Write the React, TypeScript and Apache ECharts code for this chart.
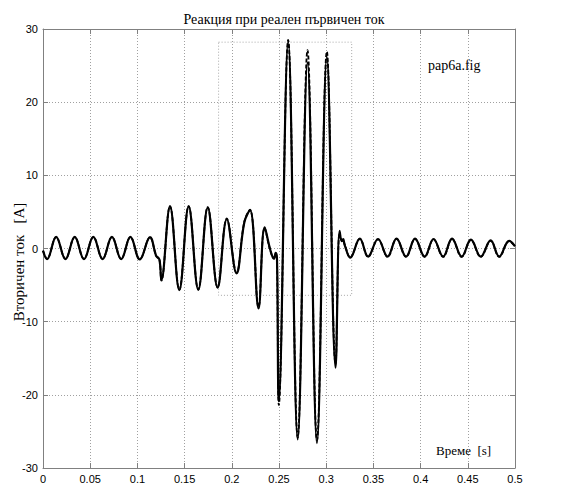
import React, { useEffect, useRef } from "react";
import * as echarts from "echarts";

const titleText = "Реакция при реален първичен ток";
const yAxisName = "Вторичен ток   [A]";
const xAxisName = "Време  [s]";
const figName = "pap6a.fig";

const xTicks = { min: 0, max: 0.5, interval: 0.05 };
const yTicks = { min: -30, max: 30, interval: 10 };

const time = [
  0.0, 0.0043, 0.0139, 0.0238, 0.0336, 0.0434, 0.0533, 0.0631, 0.073, 0.0828,
  0.0926, 0.1025, 0.1133, 0.12, 0.1233, 0.1254, 0.1345, 0.1444, 0.1543, 0.1645,
  0.1745, 0.185, 0.1947, 0.205, 0.2133, 0.2193, 0.2283, 0.2348, 0.2406, 0.2446,
  0.2465, 0.2479, 0.2498, 0.2597, 0.2698, 0.2802, 0.2902, 0.3007, 0.3099, 0.3142,
  0.3165, 0.318, 0.3195, 0.3255, 0.3356, 0.3444, 0.3549, 0.365, 0.3745, 0.3846,
  0.3941, 0.4043, 0.4137, 0.4239, 0.4333, 0.4435, 0.4533, 0.4637, 0.4742, 0.4833,
  0.4938, 0.5,
];

const solidCurrent = [
  -0.3, -1.45, 1.6, -1.45, 1.6, -1.45, 1.6, -1.45, 1.6, -1.45,
  1.6, -1.5, 1.55, -1.05, -1.5, -4.3, 5.75, -5.7, 5.75, -5.65,
  5.6, -5.35, 4.0, -3.4, 3.6, 5.25, -8.2, 2.9, -0.1, -1.4,
  -0.6, -1.5, -20.9, 28.3, -26.1, 25.4, -26.6, 26.2, -16.3, 2.4,
  1.0, 1.3, 0.5, -1.25, 1.35, -1.1, 1.3, -1.1, 1.35, -1.1,
  1.35, -1.1, 1.3, -1.1, 1.35, -1.1, 1.2, -1.1, 1.1, -1.1,
  1.05, 0.3,
];

const dashedCurrent = [
  -0.3, -1.4, 1.55, -1.4, 1.55, -1.4, 1.55, -1.4, 1.55, -1.4,
  1.55, -1.45, 1.5, -1.0, -1.45, -4.4, 5.8, -5.6, 5.8, -5.6,
  5.65, -5.3, 4.1, -3.3, 3.7, 5.3, -8.0, 2.8, -0.2, -1.3,
  -0.7, -1.6, -21.4, 28.5, -25.8, 27.1, -26.2, 26.9, -15.8, 2.2,
  1.1, 1.2, 0.6, -1.2, 1.3, -1.15, 1.25, -1.15, 1.3, -1.15,
  1.3, -1.15, 1.25, -1.15, 1.3, -1.15, 1.15, -1.15, 1.05, -1.15,
  1.0, 0.3,
];

const zoomBoxX = [0.186, 0.327];
const zoomBoxY = [-6.4, 28.2];

export default function App() {
  const ref = useRef<HTMLDivElement>(null);
  useEffect(() => {
    if (!ref.current) return;
    const chart = echarts.init(ref.current, undefined, { renderer: "svg" });
    const frame = "#808080";
    const grid = "#a0a0a0";
    const boxData = [
      [zoomBoxX[0], zoomBoxY[1]],
      [zoomBoxX[1], zoomBoxY[1]],
      [zoomBoxX[1], zoomBoxY[0]],
      [zoomBoxX[0], zoomBoxY[0]],
      [zoomBoxX[0], zoomBoxY[1]],
    ];
    const baseAxis = (extra: any) => ({
      type: "value",
      axisLine: { show: true, onZero: false, lineStyle: { color: frame, width: 1 } },
      axisTick: { show: true, inside: true, length: 5, lineStyle: { color: frame } },
      ...extra,
    });
    chart.setOption({
      animation: false,
      backgroundColor: "#ffffff",
      title: {
        text: titleText,
        left: 279,
        textAlign: "center",
        top: 7,
        textStyle: { fontFamily: "Liberation Serif", fontSize: 14, fontWeight: "normal", color: "#000" },
      },
      grid: { left: 43, right: 47, top: 29, bottom: 19, containLabel: false },
      xAxis: [
        baseAxis({
          ...xTicks,
          position: "bottom",
          axisLabel: { margin: 5, fontFamily: "Liberation Sans", fontSize: 11, color: "#000" },
          splitLine: { show: true, lineStyle: { type: [1, 2], color: grid, width: 1 } },
        }),
        baseAxis({
          ...xTicks,
          position: "top",
          axisLabel: { show: false },
          splitLine: { show: false },
        }),
      ],
      yAxis: [
        baseAxis({
          ...yTicks,
          position: "left",
          axisLabel: { margin: 5, fontFamily: "Liberation Sans", fontSize: 11, color: "#000" },
          splitLine: { show: true, lineStyle: { type: [1, 2], color: grid, width: 1 } },
        }),
        baseAxis({
          ...yTicks,
          position: "right",
          axisLabel: { show: false },
          splitLine: { show: false },
        }),
      ],
      series: [
        {
          type: "line",
          xAxisIndex: 0,
          yAxisIndex: 0,
          data: boxData,
          symbol: "none",
          silent: true,
          lineStyle: { color: "#a8a8a8", width: 1, type: [1, 2] },
        },
        {
          type: "line",
          xAxisIndex: 0,
          yAxisIndex: 0,
          data: time.map((t, i) => [t, dashedCurrent[i]]),
          symbol: "none",
          smooth: 0.4,
          lineStyle: { color: "#000", width: 1.8, type: [4, 2] },
        },
        {
          type: "line",
          xAxisIndex: 0,
          yAxisIndex: 0,
          data: time.map((t, i) => [t, solidCurrent[i]]),
          symbol: "none",
          smooth: 0.4,
          lineStyle: { color: "#000", width: 2.2 },
        },
      ],
      graphic: [
        {
          type: "text",
          left: 428,
          top: 58,
          style: { text: figName, font: "14px 'Liberation Serif'", fill: "#000" },
        },
        {
          type: "text",
          left: 436,
          top: 444,
          style: { text: xAxisName, font: "13px 'Liberation Serif'", fill: "#000" },
        },
        {
          type: "text",
          x: 19,
          y: 262,
          rotation: Math.PI / 2,
          style: {
            text: yAxisName,
            font: "15px 'Liberation Serif'",
            fill: "#000",
            align: "center",
            verticalAlign: "middle",
          },
        },
      ],
    });
    return () => chart.dispose();
  }, []);
  return (
    <div
      ref={ref}
      style={{ position: "fixed", left: 0, top: 0, width: 562, height: 487, background: "#fff" }}
    />
  );
}
